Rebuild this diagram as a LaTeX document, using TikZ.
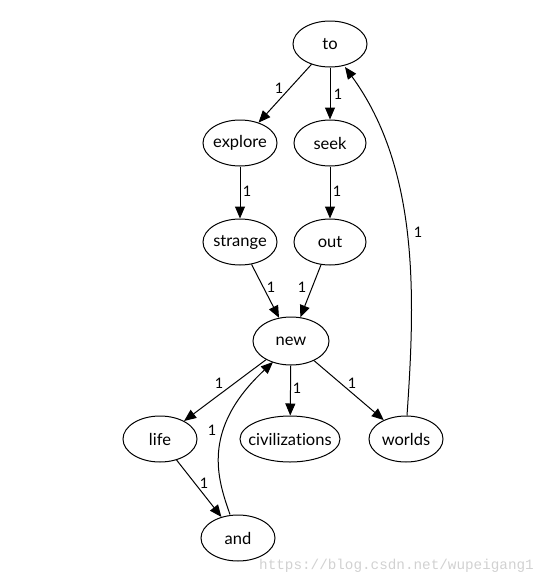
\documentclass[tikz,border=0pt]{standalone}
\usepackage{fontspec}
\setmainfont{Lato}[Ligatures={NoCommon}]
\newfontfamily\wmfont{Liberation Mono}
\usetikzlibrary{shapes.geometric,arrows.meta}
\begin{document}
\begin{tikzpicture}[x=1pt,y=-1pt,
  vtx/.style={ellipse,draw,line width=1pt,minimum width=74pt,minimum height=46pt,inner xsep=-8pt,inner ysep=0pt,font=\fontsize{16.5}{18}\selectfont},
  edge/.style={-{Triangle[length=12pt,width=10pt]},line width=1pt},
  lbl/.style={font=\fontsize{14.5}{16}\selectfont,inner sep=0pt}]
\useasboundingbox (0,0) rectangle (545,584);
\node[vtx] (to) at (330,44) {to};
\node[vtx] (explore) at (240,143) {explore};
\node[vtx,minimum width=72pt] (seek) at (330,143) {seek};
\node[vtx] (strange) at (240,242) {strange};
\node[vtx,minimum width=72pt] (out) at (330,242) {out};
\node[vtx,minimum width=76pt,minimum height=48pt] (new) at (291,341) {new};
\node[vtx] (life) at (160,439) {life};
\node[vtx,minimum width=100pt] (civ) at (290,439) {civilizations};
\node[vtx] (worlds) at (406,439) {worlds};
\node[vtx] (and) at (238,538) {and};

\draw[edge] (to) -- (explore);
\node[lbl] (l1) at (279,88) {1};
\draw[edge] (to) -- (seek);
\node[lbl] (l2) at (338,94) {1};
\draw[edge] (worlds.north) ++(1,0) coordinate (w0) (w0) .. controls (415,300) and (420,170) .. (345,67);
\node[lbl] (l3) at (418,232) {1};
\draw[edge] (explore) -- (strange);
\node[lbl] (l4) at (247,191) {1};
\draw[edge] (seek) -- (out);
\node[lbl] (l5) at (337,191) {1};
\draw[edge] (strange) -- (new);
\node[lbl] (l6) at (271,287) {1};
\draw[edge] (out) -- (new);
\node[lbl] (l7) at (302,287) {1};
\draw[edge] (new) -- (life);
\node[lbl] (l8) at (219,383) {1};
\draw[edge] (new) -- (civ);
\node[lbl] (l9) at (297,388) {1};
\draw[edge] (new) -- (worlds);
\node[lbl] (l10) at (352,383) {1};
\draw[edge] (life) -- (and);
\node[lbl] (l11) at (204,483) {1};
\draw[edge] (and.north) ++(-8,0) coordinate (a0) (a0) .. controls (218,480) and (200,430) .. (273,362);
\node[lbl] (l12) at (212,430) {1};
\node[font=\wmfont\fontsize{14.3}{16}\selectfont,text=black!18,anchor=east,inner sep=0pt] (wm) at (534,566) {https://blog.csdn.net/wupeigang1};
\end{tikzpicture}
\end{document}
